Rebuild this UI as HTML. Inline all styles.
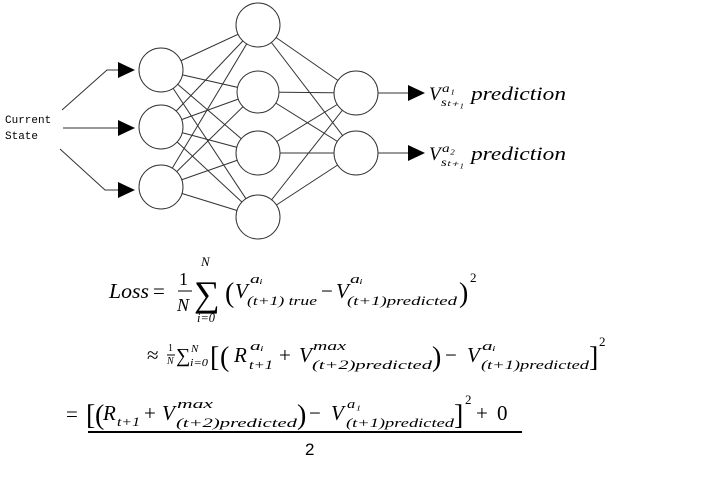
<!DOCTYPE html>
<html><head><meta charset="utf-8"><style>
body{margin:0;background:#fff;width:713px;height:480px;overflow:hidden}
svg text{font-family:"Liberation Serif",serif;font-style:italic;fill:#000}
.n{font-style:normal}
</style></head><body>
<svg width="713" height="480" viewBox="0 0 713 480" xmlns="http://www.w3.org/2000/svg">
<g stroke="#333" stroke-width="1" fill="none">
<line x1="161" y1="70" x2="258" y2="25"/><line x1="161" y1="70" x2="258" y2="92"/><line x1="161" y1="70" x2="258" y2="153"/><line x1="161" y1="70" x2="258" y2="217"/>
<line x1="161" y1="127" x2="258" y2="25"/><line x1="161" y1="127" x2="258" y2="92"/><line x1="161" y1="127" x2="258" y2="153"/><line x1="161" y1="127" x2="258" y2="217"/>
<line x1="161" y1="187" x2="258" y2="25"/><line x1="161" y1="187" x2="258" y2="92"/><line x1="161" y1="187" x2="258" y2="153"/><line x1="161" y1="187" x2="258" y2="217"/>
<line x1="258" y1="25" x2="356" y2="93"/><line x1="258" y1="25" x2="356" y2="153"/>
<line x1="258" y1="92" x2="356" y2="93"/><line x1="258" y1="92" x2="356" y2="153"/>
<line x1="258" y1="153" x2="356" y2="93"/><line x1="258" y1="153" x2="356" y2="153"/>
<line x1="258" y1="217" x2="356" y2="93"/><line x1="258" y1="217" x2="356" y2="153"/>
<polyline points="62,110 107,70 120,70"/>
<line x1="63" y1="128" x2="120" y2="128"/>
<polyline points="60,149 105,190 120,190"/>
<line x1="378" y1="93" x2="410" y2="93"/>
<line x1="378" y1="153" x2="410" y2="153"/>
</g>
<g fill="#fff" stroke="#333" stroke-width="1">
<circle cx="161" cy="70" r="22"/><circle cx="161" cy="127" r="22"/><circle cx="161" cy="187" r="22"/>
<circle cx="258" cy="25" r="22"/><circle cx="258" cy="92" r="21"/><circle cx="258" cy="153" r="22"/><circle cx="258" cy="217" r="22"/>
<circle cx="356" cy="93" r="22"/><circle cx="356" cy="153" r="22"/>
</g>
<g fill="#000">
<polygon points="118,62 135,70 118,78"/><polygon points="118,120 135,128 118,136"/><polygon points="118,182 135,190 118,198"/>
<polygon points="408,85 425,93 408,101"/><polygon points="408,145 425,153 408,161"/>
</g>
<text x="5" y="123" style="font-family:'Liberation Mono',monospace;font-style:normal;font-size:11px">Current</text>
<text x="5" y="139" style="font-family:'Liberation Mono',monospace;font-style:normal;font-size:11px">State</text>

<text x="429" y="100" font-size="19">V</text><text x="442" y="92" font-size="12" textLength="13" lengthAdjust="spacingAndGlyphs">a₁</text>
<text x="441" y="106" font-size="12" textLength="23" lengthAdjust="spacingAndGlyphs">sₜ₊₁</text>
<text x="471" y="100" font-size="19" textLength="95" lengthAdjust="spacingAndGlyphs">prediction</text>
<text x="429" y="160" font-size="19">V</text><text x="442" y="152" font-size="12" textLength="13" lengthAdjust="spacingAndGlyphs">a₂</text>
<text x="441" y="166" font-size="12" textLength="23" lengthAdjust="spacingAndGlyphs">sₜ₊₁</text>
<text x="471" y="160" font-size="19" textLength="95" lengthAdjust="spacingAndGlyphs">prediction</text>

<!-- line 1 -->
<text x="109" y="298" font-size="21" textLength="40" lengthAdjust="spacingAndGlyphs">Loss</text>
<text x="153" y="298" font-size="21" class="n">=</text>
<text x="179" y="285" font-size="18" class="n">1</text>
<line x1="178" y1="291" x2="192" y2="291" stroke="#000"/>
<text x="177" y="311" font-size="18">N</text>
<text x="194" y="306" font-size="36" class="n">∑</text>
<text x="201" y="266" font-size="13">N</text>
<text x="197" y="322" font-size="13" textLength="18" lengthAdjust="spacingAndGlyphs">i=0</text>
<text x="225" y="302" font-size="28" class="n">(</text>
<text x="235" y="298" font-size="21">V</text><text x="250" y="283" font-size="13" textLength="13" lengthAdjust="spacingAndGlyphs">aᵢ</text>
<text x="247" y="305" font-size="13" textLength="70" lengthAdjust="spacingAndGlyphs">(t+1) true</text>
<text x="321" y="298" font-size="21" class="n">−</text>
<text x="336" y="298" font-size="21">V</text><text x="350" y="283" font-size="13" textLength="13" lengthAdjust="spacingAndGlyphs">aᵢ</text>
<text x="347" y="305" font-size="13" textLength="110" lengthAdjust="spacingAndGlyphs">(t+1)predicted</text>
<text x="459" y="302" font-size="28" class="n">)</text>
<text x="470" y="282" font-size="13" class="n">2</text>

<!-- line 2 -->
<text x="147" y="362" font-size="21" class="n">≈</text>
<text x="168" y="351" font-size="10" class="n">1</text>
<line x1="167" y1="355" x2="175" y2="355" stroke="#000"/>
<text x="167" y="364" font-size="10">N</text>
<text x="176" y="362" font-size="20" class="n">∑</text>
<text x="191" y="352" font-size="11">N</text>
<text x="190" y="366" font-size="11" textLength="18" lengthAdjust="spacingAndGlyphs">i=0</text>
<text x="210" y="366" font-size="28" class="n">[</text>
<text x="220" y="366" font-size="28" class="n">(</text>
<text x="234" y="362" font-size="21">R</text><text x="250" y="350" font-size="13" textLength="14" lengthAdjust="spacingAndGlyphs">aᵢ</text>
<text x="249" y="369" font-size="13" textLength="24" lengthAdjust="spacingAndGlyphs">t+1</text>
<text x="279" y="362" font-size="21" class="n">+</text>
<text x="299" y="362" font-size="21">V</text><text x="313" y="350" font-size="13" textLength="33" lengthAdjust="spacingAndGlyphs">max</text>
<text x="312" y="369" font-size="13" textLength="120" lengthAdjust="spacingAndGlyphs">(t+2)predicted</text>
<text x="432" y="366" font-size="28" class="n">)</text>
<text x="445" y="362" font-size="21" class="n">−</text>
<text x="467" y="362" font-size="21">V</text><text x="482" y="350" font-size="13" textLength="14" lengthAdjust="spacingAndGlyphs">aᵢ</text>
<text x="481" y="369" font-size="13" textLength="108" lengthAdjust="spacingAndGlyphs">(t+1)predicted</text>
<text x="589" y="366" font-size="28" class="n">]</text>
<text x="599" y="346" font-size="13" class="n">2</text>

<!-- line 3 -->
<text x="66" y="421" font-size="21" class="n">=</text>
<text x="86" y="424" font-size="28" class="n">[</text>
<text x="95" y="424" font-size="28" class="n">(</text>
<text x="103" y="420" font-size="21">R</text>
<text x="117" y="426" font-size="13" textLength="23" lengthAdjust="spacingAndGlyphs">t+1</text>
<text x="144" y="420" font-size="21" class="n">+</text>
<text x="162" y="420" font-size="21">V</text><text x="177" y="408" font-size="13" textLength="36" lengthAdjust="spacingAndGlyphs">max</text>
<text x="176" y="427" font-size="13" textLength="121" lengthAdjust="spacingAndGlyphs">(t+2)predicted</text>
<text x="297" y="424" font-size="28" class="n">)</text>
<text x="309" y="420" font-size="21" class="n">−</text>
<text x="331" y="420" font-size="21">V</text><text x="347" y="408" font-size="13" textLength="14" lengthAdjust="spacingAndGlyphs">a₁</text>
<text x="346" y="427" font-size="13" textLength="108" lengthAdjust="spacingAndGlyphs">(t+1)predicted</text>
<text x="454" y="424" font-size="28" class="n">]</text>
<text x="465" y="404" font-size="13" class="n">2</text>
<text x="476" y="420" font-size="21" class="n">+</text>
<text x="497" y="420" font-size="21" class="n">0</text>
<line x1="88" y1="432" x2="522" y2="432" stroke="#000" stroke-width="2"/>
<text x="305" y="455" font-size="17" style="font-family:'Liberation Sans',sans-serif;font-style:normal">2</text>
</svg>
</body></html>
